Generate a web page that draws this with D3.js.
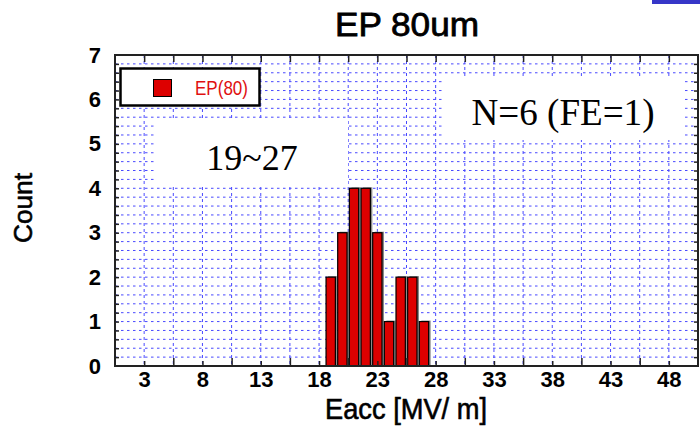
<!DOCTYPE html>
<html>
<head>
<meta charset="utf-8">
<script src="https://cdn.jsdelivr.net/npm/d3@7/dist/d3.min.js"></script>
<style>
  html, body { margin: 0; padding: 0; background: #fff; }
  svg { display: block; }
  .sans { font-family: "Liberation Sans", Arial, Helvetica, sans-serif; }
  .serif { font-family: "Liberation Serif", "Times New Roman", serif; }
</style>
</head>
<body>
<svg id="chart" width="700" height="426"></svg>
<script>
// Histogram of accelerating gradient, EP 80um
const binCenters = [19, 20, 21, 22, 23, 24, 25, 26, 27];
const counts     = [2, 3, 4, 4, 3, 1, 2, 2, 1];
const xTickLabels = [3, 8, 13, 18, 23, 28, 33, 38, 43, 48];
const yTickLabels = [0, 1, 2, 3, 4, 5, 6, 7];
const titleText = "EP 80um";
const legendText = "EP(80)";
const rangeText = "19~27";
const countText = "N=6 (FE=1)";
const xTitle = "Eacc [MV/ m]";
const yTitle = "Count";

const svg = d3.select("#chart");
const L = 115, R = 698, T = 55, B = 366;

const x = d3.scaleLinear().domain([0.5, 50.5]).range([L, R]);
const y = d3.scaleLinear().domain([0, 7]).range([B, T]);

// small blue mark in the top-right corner
svg.append("rect").attr("x", 652).attr("y", 0).attr("width", 48).attr("height", 4)
  .attr("fill", "#3636c8");

// grid lines
const gridColor = "#2a2aff";
const vGrid = d3.range(3, 50, 2.5);
const hGrid = d3.range(1, 35).map(i => i * 0.2);
const grid = svg.append("g").attr("opacity", 0.85);
grid.selectAll("line.v").data(vGrid).join("line")
  .attr("x1", d => x(d)).attr("x2", d => x(d))
  .attr("y1", T).attr("y2", B)
  .attr("stroke", gridColor).attr("stroke-width", 1).attr("stroke-dasharray", "3,3");
grid.selectAll("line.h").data(hGrid).join("line")
  .attr("x1", L).attr("x2", R)
  .attr("y1", d => y(d)).attr("y2", d => y(d))
  .attr("stroke", gridColor).attr("stroke-width", 1).attr("stroke-dasharray", "2.5,3.5");

// white annotation boxes over the grid
svg.append("rect").attr("x", 156).attr("y", 120).attr("width", 192).attr("height", 64).attr("fill", "#fff");
svg.append("rect").attr("x", 442).attr("y", 77).attr("width", 243).attr("height", 63).attr("fill", "#fff");

svg.append("text").attr("class", "serif")
  .attr("x", 252).attr("y", 170).attr("text-anchor", "middle")
  .attr("font-size", 36).attr("fill", "#000").text(rangeText);
svg.append("text").attr("class", "serif")
  .attr("x", 563).attr("y", 125).attr("text-anchor", "middle")
  .attr("font-size", 37).attr("fill", "#000")
  .attr("textLength", 183).attr("lengthAdjust", "spacingAndGlyphs").text(countText);

// bars
const bw = 0.8;
const bars = svg.append("g");
bars.selectAll("rect.shadow").data(binCenters).join("rect")
  .attr("x", d => x(d - bw / 2) + 2)
  .attr("y", (d, i) => y(counts[i]) - 1)
  .attr("width", x(bw) - x(0))
  .attr("height", (d, i) => y(0) - y(counts[i]) + 1)
  .attr("fill", "#8a8a8a");
bars.selectAll("rect.bar").data(binCenters).join("rect")
  .attr("x", d => x(d - bw / 2))
  .attr("y", (d, i) => y(counts[i]))
  .attr("width", x(bw) - x(0))
  .attr("height", (d, i) => y(0) - y(counts[i]))
  .attr("fill", "#dd0000").attr("stroke", "#000").attr("stroke-width", 1.2);

// axes
function styleAxis(g) {
  g.select(".domain").remove();
  g.selectAll(".tick line").attr("stroke", "#222").attr("stroke-width", 1.5);
}
const bottomLabels = d3.axisBottom(x).tickValues(xTickLabels).tickSize(-5).tickPadding(5).tickFormat(d3.format("d"));
svg.append("g").attr("transform", `translate(0,${B})`).call(bottomLabels).call(styleAxis)
  .selectAll("text").attr("class", "sans").attr("font-size", 22).attr("font-weight", "bold").attr("fill", "#000");
svg.append("g").attr("transform", `translate(0,${B})`)
  .call(d3.axisBottom(x).tickValues(d3.range(5.5, 50, 5)).tickSize(-8).tickFormat(""))
  .call(styleAxis);
svg.append("g").attr("transform", `translate(0,${T})`)
  .call(d3.axisTop(x).tickValues(d3.range(3, 50, 2.5)).tickSize(-7).tickFormat(""))
  .call(styleAxis);

const leftLabels = d3.axisLeft(y).tickValues(yTickLabels).tickSize(0).tickPadding(14).tickFormat(d3.format("d"));
svg.append("g").attr("transform", `translate(${L},0)`).call(leftLabels).call(styleAxis)
  .selectAll("text").attr("class", "sans").attr("font-size", 22).attr("font-weight", "bold").attr("fill", "#000");
svg.append("g").attr("transform", `translate(${L},0)`)
  .call(d3.axisLeft(y).tickValues(hGrid).tickSize(-4).tickFormat(""))
  .call(styleAxis);
svg.append("g").attr("transform", `translate(${R},0)`)
  .call(d3.axisRight(y).tickValues(hGrid).tickSize(-4).tickFormat(""))
  .call(styleAxis);

// plot frame
svg.append("rect").attr("x", L).attr("y", T).attr("width", R - L).attr("height", B - T)
  .attr("fill", "none").attr("stroke", "#222").attr("stroke-width", 2);

// legend
svg.append("rect").attr("x", 120.5).attr("y", 68.5).attr("width", 139).attr("height", 37)
  .attr("fill", "#fff").attr("stroke", "#000").attr("stroke-width", 2.5);
svg.append("rect").attr("x", 153.5).attr("y", 79.5).attr("width", 18).attr("height", 17)
  .attr("fill", "#dd0000").attr("stroke", "#000").attr("stroke-width", 1);
svg.append("text").attr("class", "sans")
  .attr("x", 195).attr("y", 95).attr("font-size", 20).attr("fill", "#e01010")
  .attr("textLength", 53).attr("lengthAdjust", "spacingAndGlyphs").text(legendText);

// titles (slightly heavier strokes)
svg.append("text").attr("class", "sans")
  .attr("x", 335).attr("y", 36).attr("font-size", 33).attr("fill", "#000")
  .attr("stroke", "#000").attr("stroke-width", 0.8)
  .attr("textLength", 144).attr("lengthAdjust", "spacingAndGlyphs").text(titleText);
svg.append("text").attr("class", "sans")
  .attr("x", 325).attr("y", 419).attr("font-size", 29).attr("fill", "#000")
  .attr("stroke", "#000").attr("stroke-width", 0.6)
  .attr("textLength", 162).attr("lengthAdjust", "spacingAndGlyphs").text(xTitle);
svg.append("text").attr("class", "sans")
  .attr("transform", "translate(32,208) rotate(-90)").attr("text-anchor", "middle")
  .attr("font-size", 26).attr("fill", "#000")
  .attr("stroke", "#000").attr("stroke-width", 0.6)
  .attr("textLength", 70).attr("lengthAdjust", "spacingAndGlyphs").text(yTitle);
</script>
</body>
</html>
